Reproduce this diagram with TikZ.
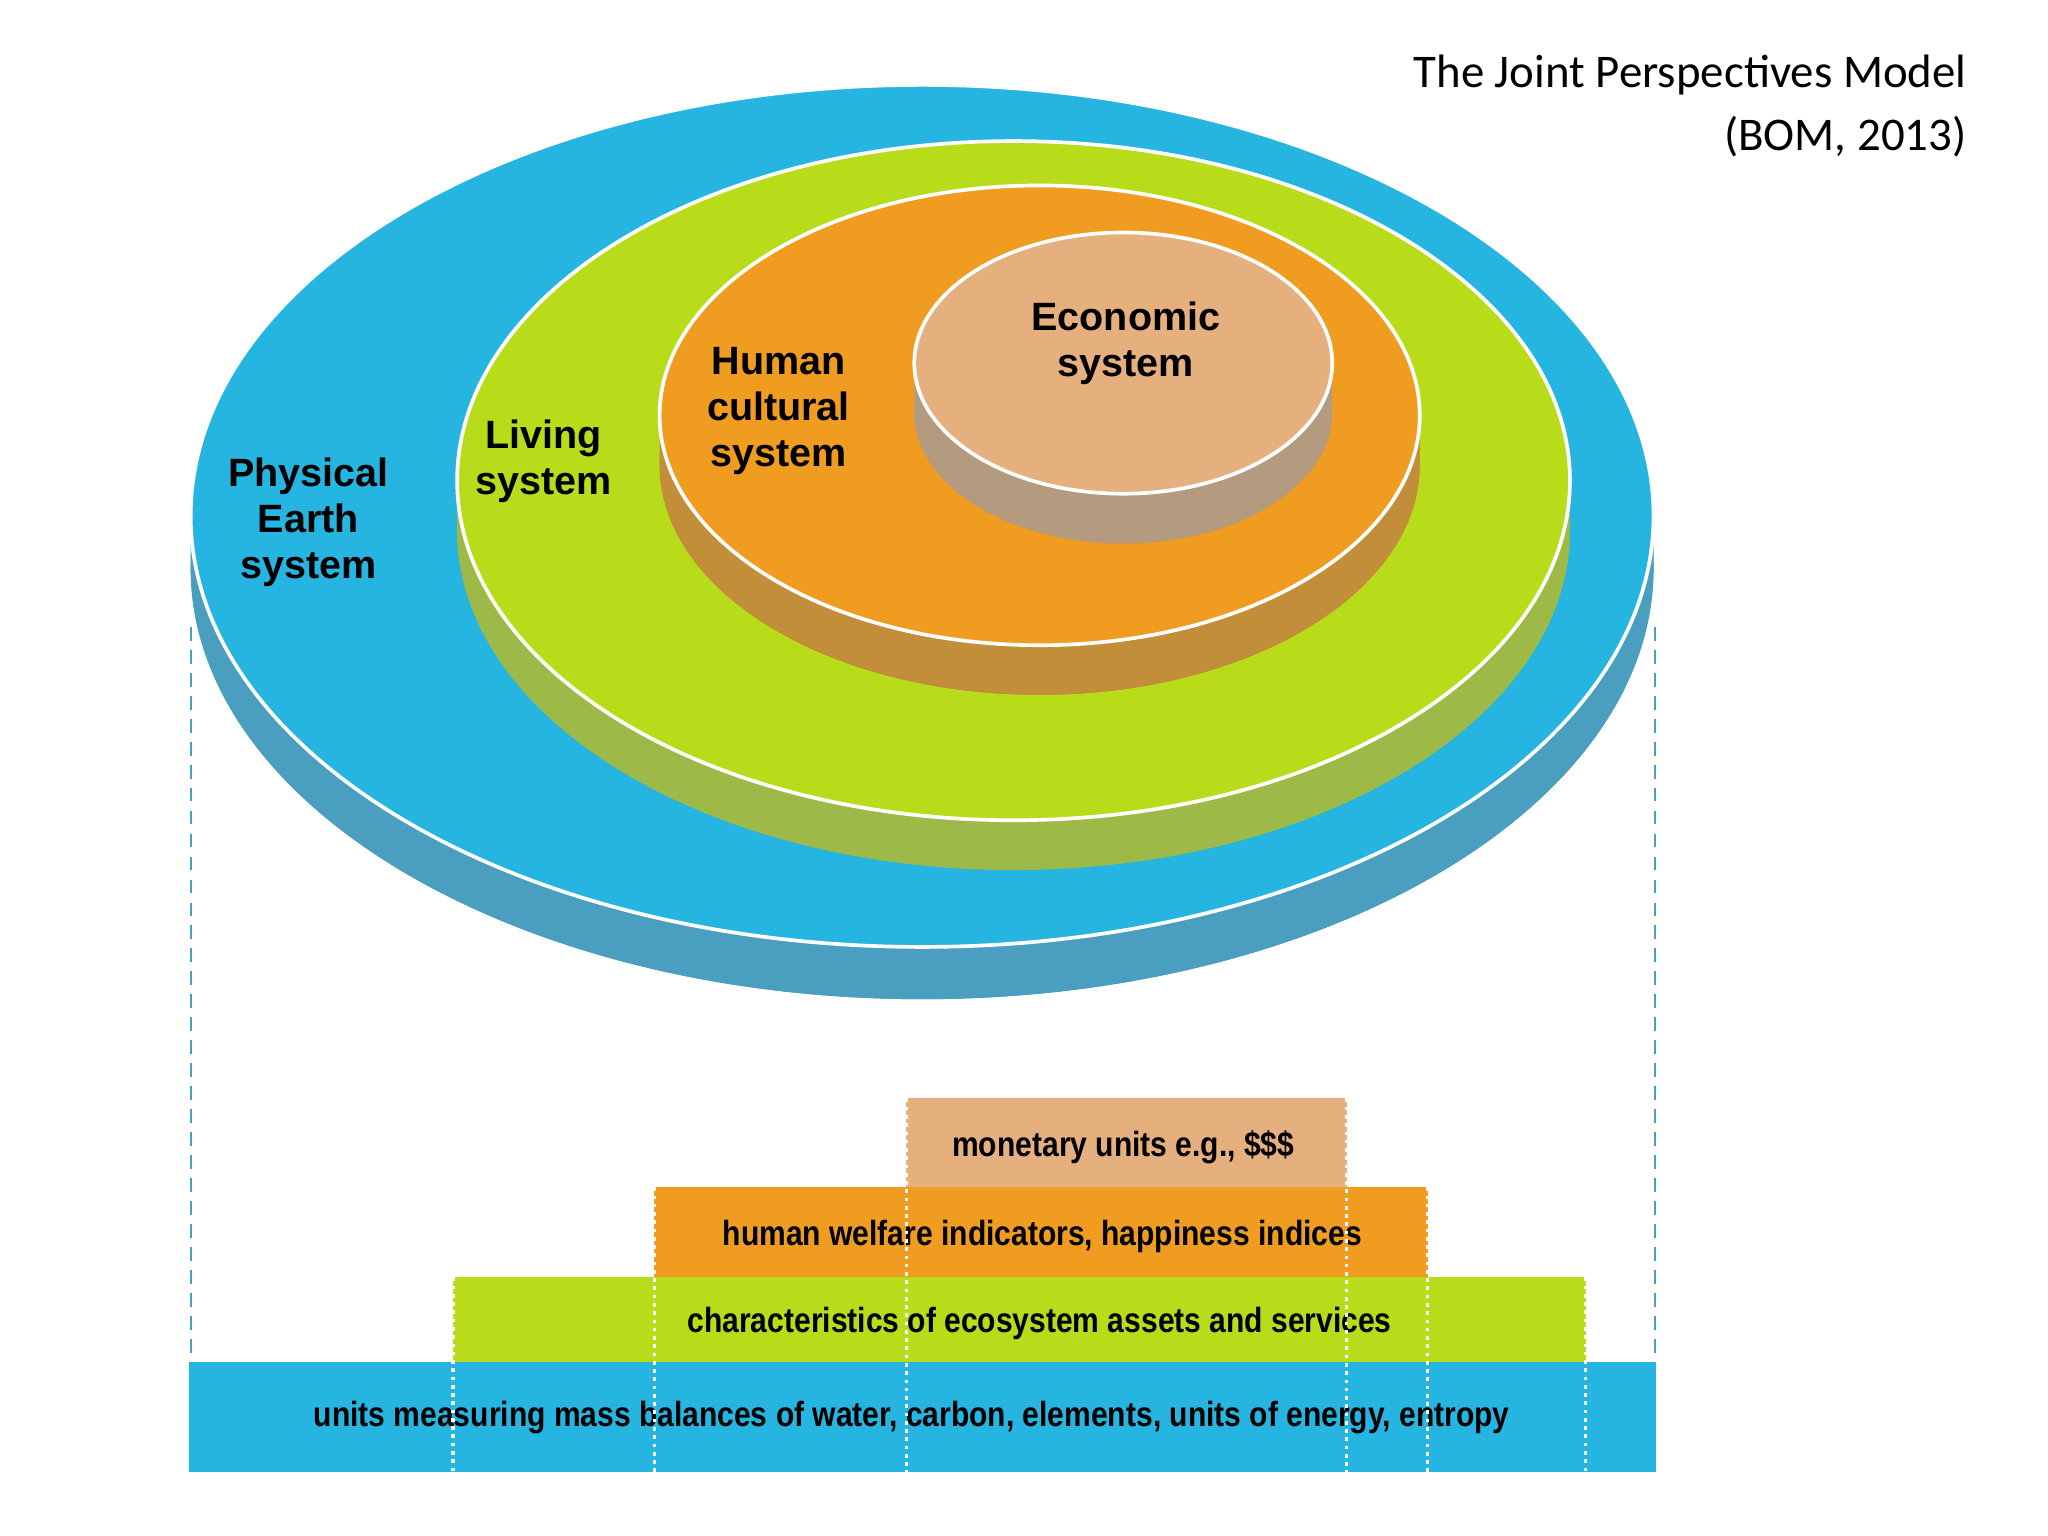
\documentclass[tikz,border=0pt]{standalone}
\usepackage{fontspec}
\setmainfont{Liberation Sans}
\newfontfamily\titlefont{Carlito}
\newfontfamily\cond[FakeStretch=0.86]{Liberation Sans}
\definecolor{cblue}{HTML}{25B5E0}\definecolor{cblueS}{HTML}{4A9EBF}
\definecolor{cgreen}{HTML}{B8DC1A}\definecolor{cgreenS}{HTML}{9DBA48}
\definecolor{corange}{HTML}{F09C20}\definecolor{corangeS}{HTML}{C28E3A}
\definecolor{ctan}{HTML}{E5B07E}\definecolor{ctanS}{HTML}{B49A7E}
\tikzset{
 lbl/.style={font=\fontsize{8.6}{10}\selectfont\bfseries,align=center},
 bartxt/.style={font=\cond\fontsize{7.6}{9}\selectfont\bfseries},
 wdot/.style={white,densely dotted,line width=0.8pt},
 bdash/.style={cblueS,densely dashed,line width=0.5pt}}
\newcommand{\disk}[6]{% cx cy rx ry depth color
 \fill[#6S] (#1-#3,#2) -- (#1-#3,#2+#5) arc[start angle=180,end angle=360,x radius=#3,y radius=-#4] -- (#1+#3,#2) -- cycle;
 \fill[#6S] (#1,#2+#5) ellipse[x radius=#3,y radius=#4];
 \filldraw[fill=#6,draw=white,line width=0.8pt] (#1,#2) ellipse[x radius=#3,y radius=#4];}
\begin{document}
\begin{tikzpicture}[x=0.01cm,y=-0.01cm]
\useasboundingbox (0,0) rectangle (1568,1176);
\fill[white] (0,0) rectangle (1568,1176);
\node[anchor=north east,align=right,font=\titlefont\fontsize{10.2}{13.6}\selectfont] (title) at (1518,30) {The Joint Perspectives Model\\(BOM, 2013)};
\disk{706}{395}{560}{330}{40}{cblue}
\disk{776}{368}{426}{260}{38}{cgreen}
\disk{796}{318}{291}{176}{38}{corange}
\disk{860}{278}{160}{100}{38}{ctan}
\node[lbl] (pe) at (236,400) {Physical\\Earth\\system};
\node[lbl] (ls) at (416,353) {Living\\system};
\node[lbl] (hc) at (596,315) {Human\\cultural\\system};
\node[lbl] (es) at (862,263) {Economic\\system};
% bars
\fill[ctan] (694,841) rectangle (1031,909);
\fill[corange] (501,909) rectangle (1093,978);
\fill[cgreen] (347,978) rectangle (1214,1043);
\fill[cblue] (145,1043) rectangle (1268,1127);
\node[bartxt] (b1) at (860,878) {monetary units e.g., \$\$\$};
\node[bartxt] (b2) at (798,947) {human welfare indicators, happiness indices};
\node[bartxt] (b3) at (796,1013) {characteristics of ecosystem assets and services};
\node[bartxt] (b4) at (698,1085) {units measuring mass balances of water, carbon, elements, units of energy, entropy};
\foreach \x/\t in {347/978,1214/978,501/909,1093/909,694/841,1031/841}
  \draw[wdot] (\x,\t) -- (\x,1127);
\draw[bdash] (146,480) -- (146,1043);
\draw[bdash] (1267,480) -- (1267,1043);
\end{tikzpicture}
\end{document}
